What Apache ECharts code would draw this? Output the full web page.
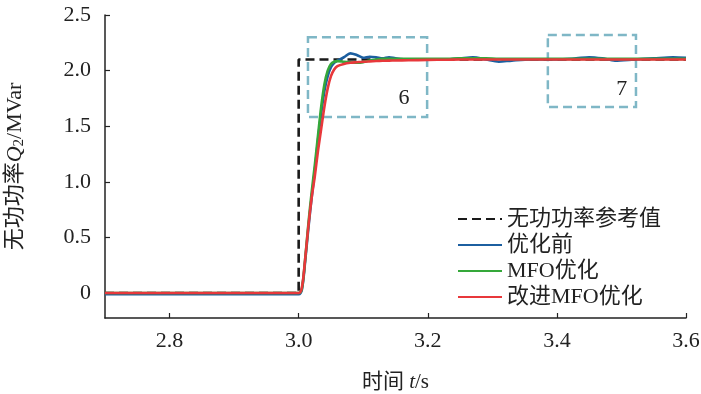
<!DOCTYPE html>
<html><head><meta charset="utf-8">
<script src="https://cdn.jsdelivr.net/npm/echarts@6/dist/echarts.min.js"></script>
<style>html,body{margin:0;padding:0;background:#fff}#c{width:701px;height:394px}</style>
</head><body><div id="c"></div>
<script>
const time = [2.7, 3.0, 3.005, 3.01, 3.015, 3.02, 3.025, 3.03, 3.035, 3.04, 3.045, 3.05, 3.055, 3.06, 3.07, 3.08, 3.09, 3.1, 3.11, 3.12, 3.13, 3.14, 3.15, 3.17, 3.2, 3.23, 3.25, 3.27, 3.29, 3.31, 3.33, 3.36, 3.4, 3.43, 3.45, 3.47, 3.49, 3.52, 3.55, 3.58, 3.6];
const before = [-0.01, -0.01, 0.03, 0.28, 0.58, 0.85, 1.1, 1.38, 1.62, 1.82, 1.95, 2.03, 2.07, 2.09, 2.12, 2.155, 2.14, 2.115, 2.125, 2.12, 2.11, 2.12, 2.11, 2.1, 2.1, 2.1, 2.11, 2.12, 2.1, 2.08, 2.09, 2.1, 2.1, 2.11, 2.12, 2.11, 2.09, 2.1, 2.11, 2.12, 2.115];
const mfo = [0, 0, 0.04, 0.3, 0.62, 0.9, 1.15, 1.42, 1.68, 1.88, 2.0, 2.06, 2.08, 2.085, 2.08, 2.075, 2.07, 2.075, 2.09, 2.1, 2.105, 2.105, 2.105, 2.105, 2.105, 2.105, 2.11, 2.11, 2.11, 2.105, 2.105, 2.105, 2.105, 2.105, 2.105, 2.105, 2.105, 2.105, 2.105, 2.105, 2.105];
const improved = [0, 0, 0.05, 0.3, 0.6, 0.85, 1.05, 1.28, 1.48, 1.68, 1.84, 1.95, 2.01, 2.04, 2.06, 2.07, 2.075, 2.08, 2.083, 2.086, 2.088, 2.09, 2.091, 2.093, 2.096, 2.098, 2.1, 2.1, 2.1, 2.1, 2.1, 2.1, 2.1, 2.1, 2.1, 2.1, 2.1, 2.1, 2.1, 2.1, 2.1];
const refTime = [2.7, 3.0, 3.0, 3.6];
const refValue = [0, 0, 2.1, 2.1];
const seriesNames = ['无功功率参考值', '优化前', 'MFO优化', '改进MFO优化'];
const yTicks = [0, 0.5, 1.0, 1.5, 2.0, 2.5];
const xTicks = [2.8, 3.0, 3.2, 3.4, 3.6];
const box6 = [[3.0144, 2.30], [3.199, 1.583]];
const box7 = [[3.386, 2.32], [3.5225, 1.673]];
const boxLabels = ['6', '7'];

const pair = (xs, ys) => xs.map((x, i) => [x, ys[i]]);
const serif = 'Liberation Serif, Times New Roman, Noto Sans CJK SC, serif';
const chart = echarts.init(document.getElementById('c'));
const lineBase = (name, data, color, extra) => Object.assign({
  name, type: 'line', data, symbol: 'none', smooth: 0.3,
  lineStyle: { color, width: 2.6 }, itemStyle: { color }, z: 3
}, extra || {});
const boxStyle = { color: 'rgba(0,0,0,0)', borderColor: '#7fb7c6', borderWidth: 2.5, borderType: [9, 5] };
const lbl = (dx, dy) => ({ show: true, position: 'insideBottomRight', fontSize: 22, color: '#222', fontFamily: serif, distance: 0, offset: [dx, dy] });
chart.setOption({
  animation: false,
  grid: { left: 105, right: 15, top: 15, bottom: 76, outerBoundsMode: 'none', containLabel: false },
  xAxis: {
    type: 'value', min: 2.7, max: 3.6,
    name: '时间 {i|t}/s', nameLocation: 'middle', nameGap: 54,
    nameTextStyle: { fontSize: 21, color: '#222', fontFamily: serif,
      rich: { i: { fontStyle: 'italic', fontSize: 21, fontFamily: serif, color: '#222' } } },
    axisLine: { onZero: false, lineStyle: { color: '#222', width: 1.5 } },
    axisTick: { inside: true, length: 5, customValues: xTicks, lineStyle: { color: '#222', width: 1.2 } },
    axisLabel: { customValues: xTicks, fontSize: 22, color: '#222', fontFamily: serif, margin: 12,
      formatter: v => v.toFixed(1) },
    splitLine: { show: false }
  },
  yAxis: {
    type: 'value', min: -0.225, max: 2.5,
    name: '{a|无功功率}{i|Q}{s|2}{a|/MVar}', nameLocation: 'middle', nameGap: 78, nameRotate: 90,
    nameTextStyle: { fontSize: 22, color: '#222', fontFamily: serif,
      rich: { a: { fontSize: 22, fontFamily: serif, color: '#222' },
              i: { fontSize: 22, fontStyle: 'italic', fontFamily: serif, color: '#222' },
              s: { fontSize: 15, fontFamily: serif, color: '#222', verticalAlign: 'bottom', padding: [9, 0, 0, 0] } } },
    axisLine: { show: true, onZero: false, lineStyle: { color: '#222', width: 1.5 } },
    axisTick: { show: true, inside: true, length: 5, customValues: yTicks, lineStyle: { color: '#222', width: 1.2 } },
    axisLabel: { customValues: yTicks, fontSize: 22, color: '#222', fontFamily: serif, margin: 14,
      formatter: v => v === 0 ? '0' : v.toFixed(1) },
    splitLine: { show: false }
  },
  legend: {
    orient: 'vertical', left: 452, top: 203, itemWidth: 44, itemHeight: 14, itemGap: 4,
    itemStyle: { opacity: 0 },
    textStyle: { fontSize: 22, lineHeight: 21, color: '#222', fontFamily: serif },
    data: seriesNames
  },
  series: [
    lineBase(seriesNames[1], pair(time, before), '#1c5fa0'),
    lineBase(seriesNames[2], pair(time, mfo), '#35a83a'),
    lineBase(seriesNames[3], pair(time, improved), '#e8383b'),
    lineBase(seriesNames[0], pair(refTime, refValue), '#1a1a1a', {
      smooth: false, z: 2, lineStyle: { color: '#1a1a1a', width: 2.6, type: [9, 5] },
      markArea: {
        silent: true, itemStyle: boxStyle,
        data: [
          [{ coord: box6[0], name: boxLabels[0], label: lbl(-19, -9) }, { coord: box6[1] }],
          [{ coord: box7[0], name: boxLabels[1], label: lbl(-10, -8) }, { coord: box7[1] }]
        ]
      }
    })
  ]
});
</script></body></html>
